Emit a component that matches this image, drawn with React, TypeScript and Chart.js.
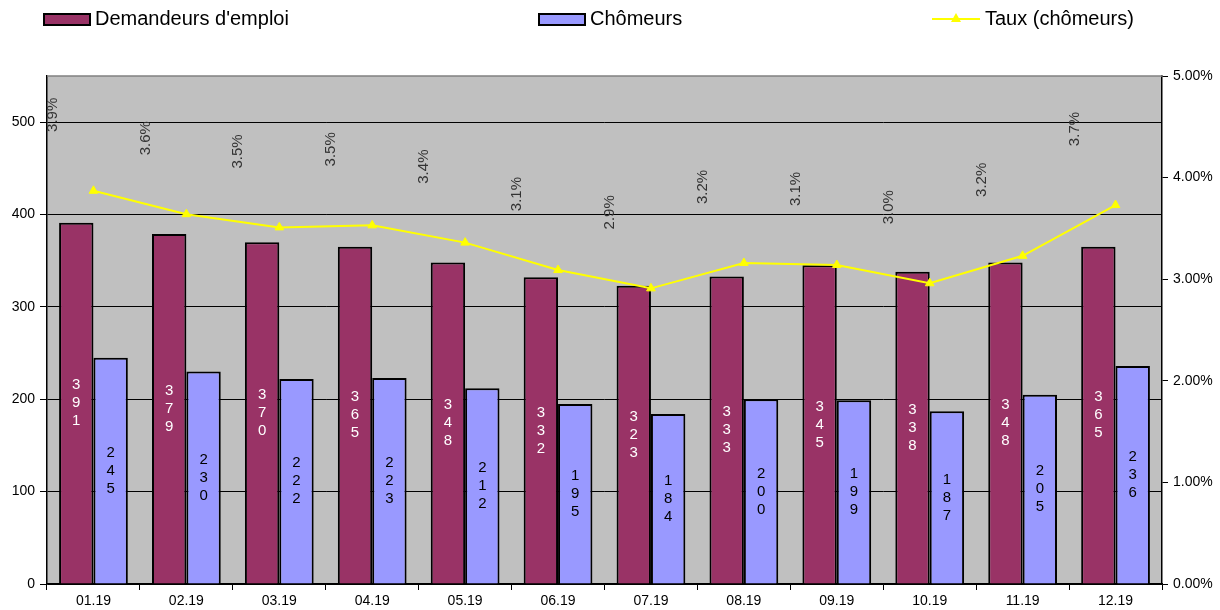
import React, { useEffect, useRef } from "react";
import { Chart, registerables } from "chart.js";

Chart.register(...registerables);

const categories = ["01.19", "02.19", "03.19", "04.19", "05.19", "06.19", "07.19", "08.19", "09.19", "10.19", "11.19", "12.19"];
const demandeurs = [391, 379, 370, 365, 348, 332, 323, 333, 345, 338, 348, 365];
const chomeurs = [245, 230, 222, 223, 212, 195, 184, 200, 199, 187, 205, 236];
const taux = [3.87, 3.64, 3.51, 3.53, 3.36, 3.09, 2.91, 3.16, 3.14, 2.96, 3.23, 3.73];
const leftTicks = [0, 100, 200, 300, 400, 500];

const FONT = "'Liberation Sans', Arial, sans-serif";
const PLUM = "#993366";
const LAVENDER = "#9999FF";
const YELLOW = "#FFFF00";

const bgPlugin = {
  id: "bgPlugin",
  beforeDraw(chart: any) {
    const { ctx, chartArea: a } = chart;
    ctx.save();
    ctx.fillStyle = "#C0C0C0";
    ctx.fillRect(a.left, a.top, a.right - a.left, a.bottom - a.top);
    ctx.restore();
  },
  beforeDatasetsDraw(chart: any) {
    const { ctx, chartArea: a } = chart;
    ctx.save();
    ctx.strokeStyle = "#808080";
    ctx.lineWidth = 1.5;
    ctx.beginPath();
    ctx.moveTo(a.left, a.top);
    ctx.lineTo(a.right, a.top);
    ctx.stroke();
    ctx.restore();
  },
};

const labelPlugin = {
  id: "labelPlugin",
  afterDatasetsDraw(chart: any) {
    const { ctx } = chart;
    ctx.save();
    ctx.font = `15px ${FONT}`;
    ctx.textAlign = "center";
    ctx.textBaseline = "middle";
    [0, 1].forEach((di) => {
      const meta = chart.getDatasetMeta(di);
      const data = chart.data.datasets[di].data as number[];
      ctx.fillStyle = di === 0 ? "#FFFFFF" : "#000000";
      meta.data.forEach((el: any, i: number) => {
        const s = String(data[i]);
        const mid = (el.y + el.base) / 2;
        const step = 18;
        const start = mid - ((s.length - 1) * step) / 2;
        for (let k = 0; k < s.length; k++) {
          ctx.fillText(s[k], el.x, start + k * step);
        }
      });
    });
    // rate labels
    const lm = chart.getDatasetMeta(2);
    const ld = chart.data.datasets[2].data as number[];
    ctx.fillStyle = "#333333";
    ctx.font = `15px ${FONT}`;
    lm.data.forEach((el: any, i: number) => {
      ctx.save();
      ctx.translate(el.x - 41, el.y - 76);
      ctx.rotate(-Math.PI / 2);
      ctx.fillText(ld[i].toFixed(1) + "%", 0, 0);
      ctx.restore();
    });
    ctx.restore();
  },
};

export default function App() {
  const ref = useRef<HTMLCanvasElement>(null);
  useEffect(() => {
    document.body.style.margin = "0";
    const chart = new Chart(ref.current as HTMLCanvasElement, {
      type: "bar",
      data: {
        labels: categories,
        datasets: [
          {
            type: "bar",
            label: "Demandeurs d'emploi",
            data: demandeurs,
            backgroundColor: PLUM,
            borderColor: "#000000",
            borderWidth: 2,
            borderSkipped: "bottom",
            yAxisID: "y",
            order: 1,
            categoryPercentage: 0.74,
            barPercentage: 1,
          } as any,
          {
            type: "bar",
            label: "Chômeurs",
            data: chomeurs,
            backgroundColor: LAVENDER,
            borderColor: "#000000",
            borderWidth: 2,
            borderSkipped: "bottom",
            yAxisID: "y",
            order: 1,
            categoryPercentage: 0.74,
            barPercentage: 1,
          } as any,
          {
            type: "line",
            label: "Taux (chômeurs)",
            data: taux,
            borderColor: YELLOW,
            backgroundColor: YELLOW,
            borderWidth: 2,
            pointStyle: "triangle",
            pointRadius: 5,
            pointBorderWidth: 1,
            tension: 0,
            yAxisID: "y1",
            order: 0,
          } as any,
        ],
      },
      options: {
        responsive: false,
        animation: false,
        devicePixelRatio: 1,
        layout: { padding: { top: 76, left: 0, right: 0, bottom: 0 } },
        plugins: {
          legend: { display: false },
          tooltip: { enabled: false },
        },
        scales: {
          x: {
            offset: true,
            grid: {
              offset: true,
              drawOnChartArea: false,
              color: "#000000",
              tickLength: 6,
              tickWidth: 1,
            },
            border: { color: "#000000", width: 1.5 },
            ticks: { font: { family: FONT, size: 14 }, color: "#000000", padding: 3 },
            afterFit(scale: any) {
              scale.height = 26;
            },
          },
          y: {
            position: "left",
            min: 0,
            max: 550,
            afterBuildTicks(scale: any) {
              scale.ticks = leftTicks.map((v) => ({ value: v }));
            },
            grid: {
              color: "#000000",
              lineWidth: 1,
              tickLength: 7,
            },
            border: { color: "#000000", width: 1.5 },
            ticks: { font: { family: FONT, size: 14 }, color: "#000000", padding: 5 },
            afterFit(scale: any) {
              scale.width = 47;
            },
          },
          y1: {
            position: "right",
            min: 0,
            max: 5,
            ticks: {
              stepSize: 1,
              font: { family: FONT, size: 14 },
              color: "#000000",
              padding: 5,
              callback: (v: any) => Number(v).toFixed(2) + "%",
            },
            grid: { drawOnChartArea: false, color: "#000000", tickLength: 6 },
            border: { color: "#000000", width: 1.5 },
            afterFit(scale: any) {
              scale.width = 58;
            },
          },
        },
      },
      plugins: [bgPlugin, labelPlugin],
    });
    return () => chart.destroy();
  }, []);

  const textStyle: React.CSSProperties = {
    position: "absolute",
    top: 6,
    fontFamily: FONT,
    fontSize: 20,
    color: "#000",
    lineHeight: "24px",
    whiteSpace: "nowrap",
  };
  const boxStyle = (left: number, color: string): React.CSSProperties => ({
    position: "absolute",
    left,
    top: 13,
    width: 44,
    height: 9,
    background: color,
    border: "2px solid #000",
  });

  return (
    <div style={{ position: "relative", width: 1220, height: 610, background: "#fff" }}>
      <canvas ref={ref} width={1220} height={610} style={{ position: "absolute", left: 0, top: 0 }} />
      <div style={boxStyle(43, PLUM)} />
      <div style={{ ...textStyle, left: 95 }}>Demandeurs d'emploi</div>
      <div style={boxStyle(538, LAVENDER)} />
      <div style={{ ...textStyle, left: 590 }}>Chômeurs</div>
      <div style={{ position: "absolute", left: 932, top: 18, width: 48, height: 2, background: YELLOW }} />
      <div
        style={{
          position: "absolute",
          left: 951,
          top: 13,
          width: 0,
          height: 0,
          borderLeft: "5px solid transparent",
          borderRight: "5px solid transparent",
          borderBottom: "9px solid " + YELLOW,
        }}
      />
      <div style={{ ...textStyle, left: 985 }}>Taux (chômeurs)</div>
    </div>
  );
}
